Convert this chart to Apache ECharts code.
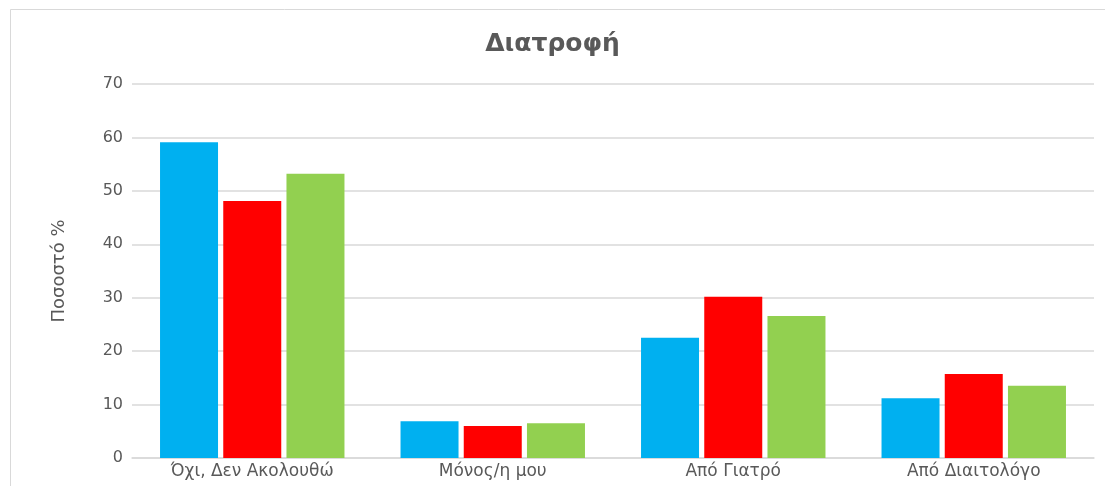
<!DOCTYPE html>
<html>
<head>
<meta charset="utf-8">
<script src="https://cdn.jsdelivr.net/npm/echarts@6/dist/echarts.min.js"></script>
<style>
  html, body { margin: 0; padding: 0; background: #fff; }
  #chart { width: 1105px; height: 486px; }
</style>
</head>
<body>
<div id="chart"></div>
<script>
// Survey answers about who guides the respondent's diet
const categories = ['Όχι, Δεν Ακολουθώ', 'Μόνος/η μου', 'Από Γιατρό', 'Από Διαιτολόγο'];
const seriesBlue = [59.1, 6.9, 22.5, 11.2];
const seriesRed = [48.1, 6.0, 30.2, 15.7];
const seriesGreen = [53.2, 6.5, 26.6, 13.5];
const yTicks = [0, 10, 20, 30, 40, 50, 60, 70];

const textColor = '#595959';
const gridColor = '#d9d9d9';
const labelFont = 'DejaVu Sans, Verdana, sans-serif';

const chart = echarts.init(document.getElementById('chart'), null, { renderer: 'canvas' });

function barSeries(name, data, color) {
  return {
    name: name,
    type: 'bar',
    data: data,
    barWidth: 58,
    barGap: '9%',
    itemStyle: { color: color },
    emphasis: { disabled: true }
  };
}

chart.setOption({
  animation: false,
  backgroundColor: '#ffffff',
  graphic: [{
    type: 'rect',
    left: 8,
    top: 7,
    shape: { width: 1120, height: 520 },
    style: { fill: 'none', stroke: '#d9d9d9', lineWidth: 1 },
    silent: true,
    z: -1
  }],
  title: {
    text: 'Διατροφή',
    left: 'center',
    top: 27,
    textStyle: {
      fontFamily: 'DejaVu Sans, sans-serif',
      fontWeight: 'bold',
      fontSize: 25,
      color: textColor
    }
  },
  grid: { left: 132, right: 11, top: 84, bottom: 28, containLabel: false },
  xAxis: {
    type: 'category',
    data: categories,
    axisLine: { lineStyle: { color: gridColor, width: 1.5 } },
    axisTick: { show: false },
    axisLabel: {
      color: textColor,
      fontFamily: labelFont,
      fontSize: 17,
      margin: 5
    }
  },
  yAxis: {
    type: 'value',
    min: yTicks[0],
    max: yTicks[yTicks.length - 1],
    interval: 10,
    name: 'Ποσοστό %',
    nameLocation: 'middle',
    nameGap: 64,
    nameTextStyle: {
      color: textColor,
      fontFamily: labelFont,
      fontSize: 18
    },
    axisLine: { show: false },
    axisTick: { show: false },
    splitLine: { lineStyle: { color: gridColor, width: 1.5 } },
    axisLabel: {
      color: textColor,
      fontFamily: labelFont,
      fontSize: 16,
      margin: 9
    }
  },
  series: [
    barSeries('Σειρά 1', seriesBlue, '#00b0f0'),
    barSeries('Σειρά 2', seriesRed, '#ff0000'),
    barSeries('Σειρά 3', seriesGreen, '#92d050')
  ]
});
</script>
</body>
</html>
